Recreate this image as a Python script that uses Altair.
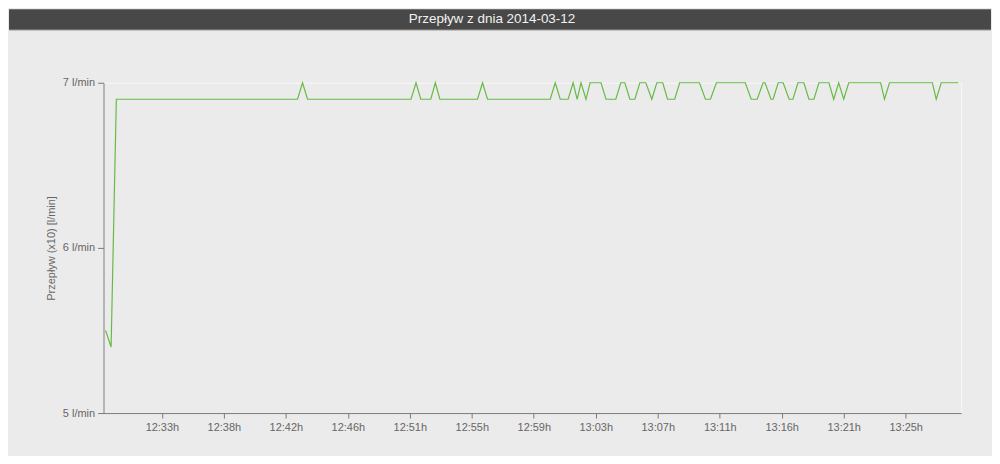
import json
import altair as alt
import pandas as pd

TITLE = "Przepływ z dnia 2014-03-12"
Y_TITLE = "Przepływ (x10) [l/min]"

# sample times (hh:mm:ss) and flow values
times = [
    "12:29:04", "12:29:27", "12:29:49", "12:42:29", "12:42:50", "12:43:11",
    "12:50:25", "12:50:46", "12:51:06", "12:51:48", "12:52:07", "12:52:26",
    "12:55:04", "12:55:25", "12:55:46", "13:00:09", "13:00:30", "13:00:51",
    "13:01:24", "13:01:45", "13:02:02", "13:02:18", "13:02:39", "13:02:56",
    "13:03:42", "13:04:03", "13:04:44", "13:05:05", "13:05:22", "13:05:43",
    "13:06:04", "13:06:25", "13:06:50", "13:07:15", "13:07:36", "13:08:01",
    "13:08:21", "13:08:51", "13:09:12", "13:10:35", "13:11:00", "13:11:21",
    "13:11:46", "13:13:47", "13:14:12", "13:14:37", "13:15:02", "13:15:10",
    "13:15:35", "13:15:44", "13:16:05", "13:16:26", "13:16:51", "13:17:07",
    "13:17:28", "13:17:53", "13:18:14", "13:18:35", "13:18:56", "13:19:38",
    "13:19:58", "13:20:19", "13:20:40", "13:21:01", "13:23:15", "13:23:31",
    "13:23:52", "13:26:52", "13:27:08", "13:27:29", "13:28:40",
]
values = [
    5.5, 5.4, 6.9, 6.9, 7.0, 6.9,
    6.9, 7.0, 6.9, 6.9, 7.0, 6.9,
    6.9, 7.0, 6.9, 6.9, 7.0, 6.9,
    6.9, 7.0, 6.9, 7.0, 6.9, 7.0,
    7.0, 6.9, 6.9, 7.0, 7.0, 6.9,
    6.9, 7.0, 7.0, 6.9, 7.0, 7.0,
    6.9, 6.9, 7.0, 7.0, 6.9, 6.9,
    7.0, 7.0, 6.9, 6.9, 7.0, 7.0,
    6.9, 6.9, 7.0, 7.0, 6.9, 6.9,
    7.0, 7.0, 6.9, 6.9, 7.0, 7.0,
    6.9, 7.0, 6.9, 7.0, 7.0, 6.9,
    7.0, 7.0, 6.9, 7.0, 7.0,
]

# x axis ticks (minutes after 12:00) and their labels
tick_values = [33.0, 37.333, 41.667, 46.0, 50.333, 54.667, 59.0,
               63.333, 67.667, 72.0, 76.333, 80.667, 85.0]
tick_labels = ["12:33h", "12:38h", "12:42h", "12:46h", "12:51h", "12:55h",
               "12:59h", "13:03h", "13:07h", "13:11h", "13:16h", "13:21h",
               "13:25h"]
y_ticks = [5, 6, 7]


def to_minutes(t):
    h, m, s = (int(p) for p in t.split(":"))
    return (h - 12) * 60 + m + s / 60.0


df = pd.DataFrame({"t": times, "v": values})
df["m"] = df["t"].map(to_minutes)

step = (tick_values[-1] - tick_values[0]) / (len(tick_values) - 1)
x_label_expr = (
    f"{json.dumps(tick_labels)}[round((datum.value - {tick_values[0]}) / {step})]"
)

W, H = 862, 332
BG = "#ebebeb"

line = alt.Chart(df).mark_line(color="#66bb44", strokeWidth=1.2).encode(
    x=alt.X(
        "m:Q",
        scale=alt.Scale(domain=[28.92, 88.877], nice=False, zero=False),
        axis=alt.Axis(
            values=tick_values,
            labelExpr=x_label_expr,
            title=None,
            grid=False,
            tickSize=5,
            labelPadding=4,
            zindex=1,
        ),
    ),
    y=alt.Y(
        "v:Q",
        scale=alt.Scale(domain=[5, 7], nice=False, zero=False),
        axis=alt.Axis(
            values=y_ticks,
            labelExpr="datum.value + ' l/min'",
            title=Y_TITLE,
            grid=False,
            tickSize=6,
            labelPadding=3,
            titlePadding=6,
            titleFontSize=11,
            titleFont="Liberation Sans",
            titleFontWeight="normal",
            titleColor="#666666",
            zindex=1,
        ),
    ),
)

head = pd.DataFrame({"title": [TITLE]})
# background filler so the grey page area reaches the bottom of the window
filler = alt.Chart(head).mark_rect(color=BG).encode(
    x=alt.value(-95), x2=alt.value(892), y=alt.value(H + 1), y2=alt.value(374)
)
bar = alt.Chart(head).mark_rect(color="#484848").encode(
    x=alt.value(-95), x2=alt.value(892), y=alt.value(-74), y2=alt.value(-53)
)
bar_edge = alt.Chart(head).mark_rule(color="#9a9a9a", strokeWidth=1).encode(
    x=alt.value(-95), x2=alt.value(892), y=alt.value(-53)
)
title_text = alt.Chart(head).mark_text(
    color="#f2f2f2", font="Liberation Sans", fontSize=13.5, baseline="middle",
    align="center",
).encode(
    text="title:N", x=alt.value(390.5), y=alt.value(-64.5)
)

chart = (
    alt.layer(filler, bar, bar_edge, title_text, line)
    .properties(width=W, height=H, padding=0, background=BG)
    .configure_view(stroke="#f7f7f7", strokeWidth=1)
    .configure_axis(
        labelFont="Liberation Sans",
        labelFontSize=11,
        labelColor="#666666",
        domainColor="#7a7a7a",
        tickColor="#7a7a7a",
        domainWidth=1,
    )
)

chart.save("out.html", embed_options={"renderer": "svg", "actions": False})
